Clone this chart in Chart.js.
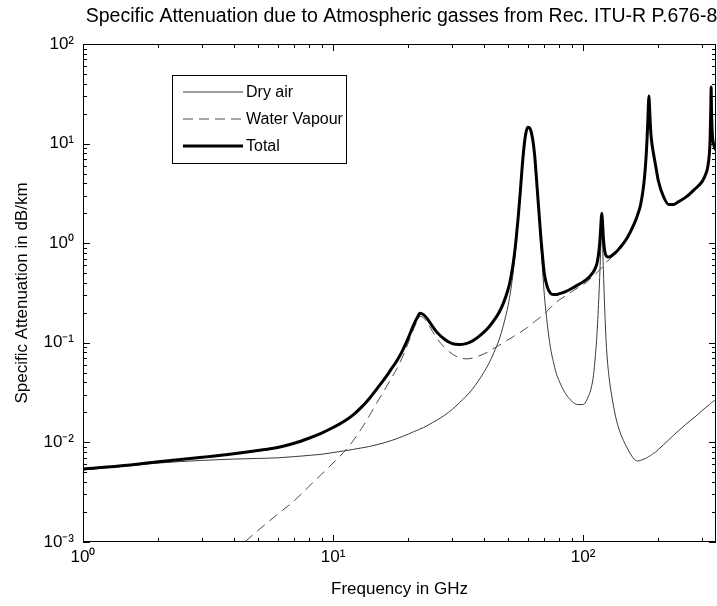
<!DOCTYPE html>
<html>
<head>
<meta charset="utf-8">
<script src="https://cdn.jsdelivr.net/npm/chart.js@4.4.0/dist/chart.umd.min.js"></script>
<style>
  html, body { margin: 0; padding: 0; background: #fff; }
  #wrap { width: 717px; height: 606px; }
</style>
</head>
<body>
<div id="wrap"><canvas id="attChart" width="717" height="606"></canvas></div>
<script>
// --- TEXT ---
const TITLE = 'Specific Attenuation due to Atmospheric gasses from Rec. ITU-R P.676-8';
const X_LABEL = 'Frequency in GHz';
const Y_LABEL = 'Specific Attenuation in dB/km';
const SERIES_NAMES = ['Dry air', 'Water Vapour', 'Total'];

// --- AXES ---
const X_MIN = 1, X_MAX = 340;
const Y_MIN = 0.001, Y_MAX = 100;
const X_TICKS = [1, 10, 100];
const X_TICK_LABELS = ['10\u2070', '10\u00b9', '10\u00b2'];
const Y_TICKS = [0.001, 0.01, 0.1, 1, 10, 100];
const Y_TICK_LABELS = ['10\u207b\u00b3', '10\u207b\u00b2', '10\u207b\u00b9', '10\u2070', '10\u00b9', '10\u00b2'];

// --- DATA (GHz, dB/km) ---
const FREQ = [
  1, 1.5, 2, 3, 4, 5, 6, 7, 8, 9,
  10, 11, 12, 13, 14, 15, 16, 17, 18, 19, 20, 21, 22, 22.235,
  23, 24, 25, 26, 28, 30, 32, 34, 36, 38, 40, 42, 44, 46, 48, 50,
  51, 52, 53, 54, 55, 56, 57, 58, 59, 60,
  61, 62, 63, 64, 65, 66, 67, 68, 69, 70,
  72, 74, 76, 78, 80, 85, 90, 95, 100, 105,
  108, 110, 112, 114, 116, 117, 118, 118.75, 119.5, 120.5,
  122, 124, 127, 130, 135, 140, 150, 160, 165, 170,
  175, 178, 180, 181.5, 182.5, 183.31, 184, 185, 186.5, 188,
  190, 195, 200, 210, 220, 230, 240, 260, 280, 300,
  310, 315, 320, 322, 324, 325.15, 326, 328, 330, 335, 340
];

const DRY_AIR = [
  0.0053, 0.0058, 0.0062, 0.0066, 0.0068, 0.0069, 0.0070, 0.0072, 0.0074, 0.0076,
  0.0079, 0.0082, 0.0085, 0.0088, 0.0091, 0.0095, 0.0099, 0.0104, 0.0109, 0.0115, 0.0121, 0.0128, 0.0134, 0.0136,
  0.0141, 0.0149, 0.0158, 0.0167, 0.0188, 0.0215, 0.025, 0.029, 0.034, 0.041, 0.05, 0.062, 0.08, 0.105, 0.15, 0.23,
  0.30, 0.42, 0.62, 1.0, 1.7, 3.0, 5.5, 9.0, 12.5, 14.5,
  14.3, 13.0, 10.5, 7.5, 4.5, 2.6, 1.5, 0.85, 0.5, 0.3,
  0.15, 0.09, 0.065, 0.05, 0.042, 0.031, 0.026, 0.024, 0.024, 0.029,
  0.036, 0.047, 0.075, 0.14, 0.35, 0.6, 1.1, 1.45, 1.1, 0.55,
  0.22, 0.09, 0.045, 0.03, 0.018, 0.013, 0.0088, 0.0068, 0.0065, 0.0066,
  0.0068, 0.0069, 0.007, 0.0071, 0.0072, 0.0072, 0.0073, 0.0073, 0.0074, 0.0075,
  0.0077, 0.008, 0.0085, 0.0095, 0.0106, 0.0118, 0.013, 0.0155, 0.018, 0.021,
  0.0225, 0.0232, 0.024, 0.0243, 0.0246, 0.0248, 0.025, 0.0253, 0.0256, 0.0263, 0.027
];

const WATER_VAPOUR = [
  0.00005, 0.0001, 0.0002, 0.00045, 0.0008, 0.0013, 0.0019, 0.0026, 0.0036, 0.0048,
  0.0062, 0.0079, 0.0103, 0.0138, 0.0187, 0.0252, 0.033, 0.043, 0.055, 0.073, 0.1, 0.138, 0.177, 0.185,
  0.178, 0.155, 0.13, 0.111, 0.089, 0.077, 0.071, 0.069, 0.07, 0.073, 0.077, 0.082, 0.088, 0.094, 0.1, 0.107,
  0.11, 0.113, 0.117, 0.12, 0.124, 0.127, 0.131, 0.135, 0.139, 0.143,
  0.148, 0.153, 0.158, 0.163, 0.168, 0.173, 0.178, 0.183, 0.188, 0.193,
  0.21, 0.225, 0.24, 0.255, 0.268, 0.295, 0.325, 0.355, 0.385, 0.42,
  0.45, 0.47, 0.49, 0.51, 0.535, 0.55, 0.56, 0.565, 0.575, 0.585,
  0.62, 0.65, 0.68, 0.72, 0.79, 0.88, 1.12, 1.55, 1.9, 2.45,
  3.95, 6.45, 10.5, 17, 25, 30, 26, 19, 13, 10.5,
  8.7, 6.0, 4.2, 2.9, 2.44, 2.44, 2.59, 2.93, 3.48, 4.18,
  4.98, 5.78, 7.98, 11, 22, 37, 24, 14, 11, 9.2, 8.57
];

const TOTAL = [
  0.0054, 0.0059, 0.0064, 0.0071, 0.0077, 0.0083, 0.0089, 0.0098, 0.011, 0.0124,
  0.0141, 0.0161, 0.0188, 0.0226, 0.0278, 0.0347, 0.0429, 0.0534, 0.0659, 0.0845, 0.112, 0.151, 0.19, 0.198,
  0.192, 0.17, 0.146, 0.128, 0.108, 0.098, 0.096, 0.098, 0.104, 0.114, 0.127, 0.144, 0.168, 0.199, 0.25, 0.337,
  0.41, 0.533, 0.737, 1.12, 1.82, 3.13, 5.63, 9.14, 12.6, 14.6,
  14.45, 13.15, 10.66, 7.66, 4.67, 2.77, 1.68, 1.03, 0.69, 0.49,
  0.36, 0.315, 0.305, 0.305, 0.31, 0.326, 0.351, 0.379, 0.409, 0.449,
  0.486, 0.517, 0.565, 0.65, 0.885, 1.15, 1.66, 2.0, 1.68, 1.14,
  0.84, 0.74, 0.725, 0.75, 0.808, 0.893, 1.13, 1.56, 1.91, 2.46,
  3.96, 6.46, 10.5, 17, 25, 30, 26, 19, 13, 10.5,
  8.71, 6.01, 4.21, 2.91, 2.45, 2.45, 2.6, 2.95, 3.5, 4.2,
  5.0, 5.8, 8.0, 11, 22, 37, 24, 14, 11, 9.23, 8.6
];

const FONT = 'Arial, "Liberation Sans", Helvetica, sans-serif';

function toPoints(values) {
  return FREQ.map((f, i) => ({ x: f, y: values[i] }));
}

// 1..9 x 10^e between min and max, for the inward tick marks
function logTickValues(min, max) {
  const out = [];
  for (let e = Math.floor(Math.log10(min)); e <= Math.ceil(Math.log10(max)); e++) {
    for (let m = 1; m <= 9; m++) {
      const v = m * Math.pow(10, e);
      if (v >= min * 0.999 && v <= max * 1.001) out.push({ v: v, major: m === 1 });
    }
  }
  return out;
}

// --- PLUGIN: box frame, inward ticks, title, legend (MATLAB look) ---
const matlabFrame = {
  id: 'matlabFrame',
  afterDatasetsDraw(chart) {
    const { ctx, chartArea: a, scales } = chart;
    ctx.save();
    ctx.strokeStyle = '#000';
    ctx.lineWidth = 1;
    ctx.setLineDash([]);
    ctx.strokeRect(a.left + 0.5, a.top + 0.5, a.right - a.left - 1, a.bottom - a.top - 1);

    ctx.beginPath();
    logTickValues(scales.x.min, scales.x.max).forEach(t => {
      const px = Math.round(scales.x.getPixelForValue(t.v)) + 0.5;
      const len = t.major ? 7 : 4;
      ctx.moveTo(px, a.bottom); ctx.lineTo(px, a.bottom - len);
      ctx.moveTo(px, a.top); ctx.lineTo(px, a.top + len);
    });
    logTickValues(scales.y.min, scales.y.max).forEach(t => {
      const py = Math.round(scales.y.getPixelForValue(t.v)) + 0.5;
      const len = t.major ? 7 : 4;
      ctx.moveTo(a.left, py); ctx.lineTo(a.left + len, py);
      ctx.moveTo(a.right, py); ctx.lineTo(a.right - len, py);
    });
    ctx.stroke();
    ctx.restore();
  },
  afterDraw(chart) {
    const { ctx, chartArea: a } = chart;
    ctx.save();

    // Title
    ctx.fillStyle = '#000';
    ctx.font = '19.5px ' + FONT;
    ctx.textAlign = 'center';
    ctx.textBaseline = 'middle';
    ctx.fillText(TITLE, (a.left + a.right) / 2 + 2, 17);

    // Legend box
    const box = { x: 172.5, y: 75.5, w: 174, h: 88 };
    ctx.fillStyle = '#fff';
    ctx.fillRect(box.x, box.y, box.w, box.h);
    ctx.strokeStyle = '#000';
    ctx.lineWidth = 1;
    ctx.strokeRect(box.x, box.y, box.w, box.h);

    ctx.font = '16px ' + FONT;
    ctx.textAlign = 'left';
    chart.data.datasets.forEach((ds, i) => {
      const y = 92 + i * 27;
      ctx.beginPath();
      ctx.strokeStyle = ds.borderColor;
      ctx.lineWidth = ds.borderWidth;
      ctx.setLineDash(ds.borderDash || []);
      ctx.moveTo(183, y);
      ctx.lineTo(243, y);
      ctx.stroke();
      ctx.fillStyle = '#000';
      ctx.fillText(ds.label, 246, y + 1);
    });
    ctx.restore();
  }
};

const ctx = document.getElementById('attChart').getContext('2d');
const chart = new Chart(ctx, {
  type: 'line',
  data: {
    datasets: [
      { label: SERIES_NAMES[0], data: toPoints(DRY_AIR), borderColor: '#3a3a3a', borderWidth: 1, order: 2 },
      { label: SERIES_NAMES[1], data: toPoints(WATER_VAPOUR), borderColor: '#4a4a4a', borderWidth: 1, borderDash: [10, 6], order: 1 },
      { label: SERIES_NAMES[2], data: toPoints(TOTAL), borderColor: '#000', borderWidth: 3, order: 0 }
    ]
  },
  options: {
    responsive: false,
    animation: false,
    devicePixelRatio: 1,
    layout: { padding: { top: 44, right: 1, left: 0, bottom: 0 } },
    elements: {
      point: { radius: 0 },
      line: { cubicInterpolationMode: 'monotone', fill: false }
    },
    plugins: {
      legend: { display: false },
      title: { display: false },
      tooltip: { enabled: false }
    },
    scales: {
      x: {
        type: 'logarithmic',
        min: X_MIN, max: X_MAX,
        grid: { display: false, drawTicks: false },
        border: { display: false },
        afterBuildTicks: s => { s.ticks = X_TICKS.map(v => ({ value: v })); },
        afterFit: s => { s.height = 64; },
        ticks: {
          autoSkip: false, maxRotation: 0, padding: 5, color: '#000',
          font: { family: FONT, size: 17 },
          callback: v => X_TICK_LABELS[X_TICKS.indexOf(v)]
        },
        title: {
          display: true, text: X_LABEL, color: '#000',
          font: { family: FONT, size: 17 }, padding: { top: 0, bottom: 6 }
        }
      },
      y: {
        type: 'logarithmic',
        min: Y_MIN, max: Y_MAX,
        grid: { display: false, drawTicks: false },
        border: { display: false },
        afterBuildTicks: s => { s.ticks = Y_TICKS.map(v => ({ value: v })); },
        afterFit: s => { s.width = 83; },
        ticks: {
          autoSkip: false, padding: 9, color: '#000',
          font: { family: FONT, size: 17 },
          callback: v => Y_TICK_LABELS[Y_TICKS.indexOf(v)]
        },
        title: {
          display: true, text: Y_LABEL, color: '#000',
          font: { family: FONT, size: 17 }, padding: { top: 12, bottom: 0 }
        }
      }
    }
  },
  plugins: [matlabFrame]
});
</script>
</body>
</html>
